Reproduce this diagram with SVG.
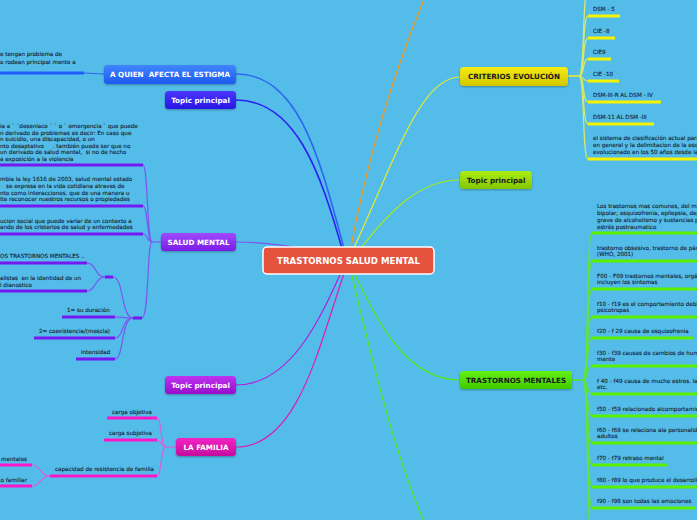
<svg xmlns="http://www.w3.org/2000/svg" width="697" height="520" viewBox="0 0 697 520">
<defs>
<linearGradient id="gBlue" x1="0" y1="0" x2="0" y2="1"><stop offset="0" stop-color="#4085ff"/><stop offset="1" stop-color="#1c5aee"/></linearGradient>
<linearGradient id="gIndigo" x1="0" y1="0" x2="0" y2="1"><stop offset="0" stop-color="#4a38ff"/><stop offset="1" stop-color="#2915e4"/></linearGradient>
<linearGradient id="gViolet" x1="0" y1="0" x2="0" y2="1"><stop offset="0" stop-color="#a049ff"/><stop offset="1" stop-color="#7a1de6"/></linearGradient>
<linearGradient id="gPurple" x1="0" y1="0" x2="0" y2="1"><stop offset="0" stop-color="#bd33f0"/><stop offset="1" stop-color="#990ccb"/></linearGradient>
<linearGradient id="gPink" x1="0" y1="0" x2="0" y2="1"><stop offset="0" stop-color="#f224c4"/><stop offset="1" stop-color="#c60d9e"/></linearGradient>
<linearGradient id="gYellow" x1="0" y1="0" x2="0" y2="1"><stop offset="0" stop-color="#f4ec12"/><stop offset="1" stop-color="#d2c600"/></linearGradient>
<linearGradient id="gLime" x1="0" y1="0" x2="0" y2="1"><stop offset="0" stop-color="#aaee14"/><stop offset="1" stop-color="#84c600"/></linearGradient>
<linearGradient id="gGreen" x1="0" y1="0" x2="0" y2="1"><stop offset="0" stop-color="#64f214"/><stop offset="1" stop-color="#40ca00"/></linearGradient>
<filter id="sh" x="-10%" y="-30%" width="120%" height="170%"><feDropShadow dx="0" dy="1" stdDeviation="0.8" flood-color="#000" flood-opacity="0.3"/></filter>
</defs>
<style>
.c{fill:none;stroke-width:1.2}
.ul{fill:none;stroke-width:3}
.t{font-family:"DejaVu Sans",Verdana,sans-serif;font-size:5.6px;fill:#17222e;stroke:#17222e;stroke-width:0.12}
.nt{font-family:"DejaVu Sans",Verdana,sans-serif;font-size:7.2px;font-weight:bold;text-anchor:middle}
.w{fill:#ffffff}
.d{fill:#1a1a1a}
.blue{stroke:#2a66f2}
.indigo{stroke:#2e1ff0}
.violet{stroke:#7d55f2}
.purple{stroke:#b21ee0}
.pink{stroke:#e01cb6}
.pinkl{stroke:#d462dc}
.orange{stroke:#f39a1c}
.yellow{stroke:#e8ec2c}
.yellowl{stroke:#d6ea6a}
.lime{stroke:#a4ea1c}
.green{stroke:#4ee81a}
.greenl{stroke:#62e43a}
.ulBlue{stroke:#1f5cff}
.ulViolet{stroke:#7518f2}
.ulPink{stroke:#ff16c8}
.ulYellow{stroke:#f6f300}
.ulGreen{stroke:#5af000}
</style>
<rect x="0" y="0" width="697" height="520" fill="#54bce9"/>

<g id="connectors">
  <path class="c orange" d="M 350 252 C 365 170, 390 80, 428 -10"/>
  <path class="c yellow" d="M 352 252 C 395 160, 420 77, 460 77"/>
  <path class="c lime" d="M 358 252 C 390 210, 420 180, 460 180"/>
  <path class="c blue" style="stroke-width:1.6" d="M 345 252 C 320 160, 300 74, 236 74"/>
  <path class="c indigo" style="stroke-width:1.6" d="M 343 252 C 320 170, 295 100, 236 100"/>
  <path class="c violet" d="M 340 255 C 300 248, 270 242, 236 242"/>
  <path class="c purple" d="M 343 268 C 320 320, 290 385, 236 385"/>
  <path class="c pink" d="M 346 268 C 320 340, 300 447, 236 447"/>
  <path class="c green" d="M 352 268 C 380 330, 410 380, 460 380"/>
  <path class="c green" d="M 350 268 C 370 350, 395 460, 428 530"/>

  <path class="c blue" d="M 104 74 L 84 73"/>
  <path class="ul ulBlue" d="M 0 73 L 84 73"/>

  <path class="c violet" d="M 161 242 L 152 242"/>
  <path class="c violet" d="M 152 242 C 147 242, 148 165, 143 165"/>
  <path class="c violet" d="M 152 242 C 147 242, 148 206, 143 206"/>
  <path class="c violet" d="M 152 242 C 147 242, 148 234, 143 234"/>
  <path class="c violet" d="M 152 242 C 147 242, 149 318, 142 318"/>
  <path class="ul ulViolet" d="M 0 165 L 143 165"/>
  <path class="ul ulViolet" d="M 0 206 L 143 206"/>
  <path class="ul ulViolet" d="M 0 234 L 143 234"/>
  <path class="ul ulViolet" d="M 133 318 L 142 318"/>
  <path class="c violet" d="M 133 318 C 121 318, 123 317, 115 317"/>
  <path class="c violet" d="M 133 318 C 121 318, 124 338, 115 338"/>
  <path class="c violet" d="M 133 318 C 121 318, 124 359, 115 359"/>
  <path class="c violet" d="M 133 318 C 121 318, 124 277, 113 277"/>
  <path class="ul ulViolet" d="M 62 317 L 115 317"/>
  <path class="ul ulViolet" d="M 34 338 L 115 338"/>
  <path class="ul ulViolet" d="M 76 359 L 115 359"/>
  <path class="ul ulViolet" d="M 105 277 L 113 277"/>
  <path class="c violet" d="M 105 277 C 95 277, 96 263, 87 263"/>
  <path class="c violet" d="M 105 277 C 95 277, 96 291, 87 291"/>
  <path class="ul ulViolet" d="M 0 263 L 87 263"/>
  <path class="ul ulViolet" d="M 0 291 L 87 291"/>

  <path class="c pinkl" d="M 176 447 L 166 447"/>
  <path class="c pinkl" d="M 166 447 C 160 447, 162 418, 157 418"/>
  <path class="c pinkl" d="M 166 447 C 160 447, 162 440, 157 440"/>
  <path class="c pinkl" d="M 166 447 C 160 447, 162 476, 157 476"/>
  <path class="ul ulPink" d="M 107 418 L 157 418"/>
  <path class="ul ulPink" d="M 104 440 L 157 440"/>
  <path class="ul ulPink" d="M 50 476 L 157 476"/>
  <path class="c pinkl" d="M 50 476 C 40 476, 41 465, 32 465"/>
  <path class="c pinkl" d="M 50 476 C 40 476, 41 486, 32 486"/>
  <path class="ul ulPink" d="M 0 465 L 32 465"/>
  <path class="ul ulPink" d="M 0 486 L 32 486"/>

  <path class="c yellow" style="stroke-width:1.6" d="M 568 76 L 579 76"/>
  <path class="c yellowl" d="M 579 76 C 585 76, 582 -10, 588 -10"/>
  <path class="c yellowl" d="M 579 76 C 585 76, 582 16, 588 16"/>
  <path class="c yellowl" d="M 579 76 C 585 76, 582 38, 588 38"/>
  <path class="c yellowl" d="M 579 76 C 585 76, 582 59, 588 59"/>
  <path class="c yellowl" d="M 579 76 C 585 76, 582 81, 588 81"/>
  <path class="c yellowl" d="M 579 76 C 585 76, 582 102, 588 102"/>
  <path class="c yellowl" d="M 579 76 C 585 76, 582 124, 588 124"/>
  <path class="c yellowl" d="M 579 76 C 585 76, 582 159, 588 159"/>
  <path class="ul ulYellow" d="M 588 16 L 620 16"/>
  <path class="ul ulYellow" d="M 588 38 L 615 38"/>
  <path class="ul ulYellow" d="M 588 59 L 611 59"/>
  <path class="ul ulYellow" d="M 588 81 L 619 81"/>
  <path class="ul ulYellow" d="M 588 102 L 661 102"/>
  <path class="ul ulYellow" d="M 588 124 L 654 124"/>
  <path class="ul ulYellow" d="M 588 159 L 700 159"/>

  <path class="c green" style="stroke-width:1.6" d="M 572 380 L 583 380"/>
  <path class="c greenl" d="M 583 380 C 589 380, 586 233, 592 233"/>
  <path class="c greenl" d="M 583 380 C 589 380, 586 261, 592 261"/>
  <path class="c greenl" d="M 583 380 C 589 380, 586 289, 592 289"/>
  <path class="c greenl" d="M 583 380 C 589 380, 586 317, 592 317"/>
  <path class="c greenl" d="M 583 380 C 589 380, 586 338, 592 338"/>
  <path class="c greenl" d="M 583 380 C 589 380, 586 366, 592 366"/>
  <path class="c greenl" d="M 583 380 C 589 380, 586 394, 592 394"/>
  <path class="c greenl" d="M 583 380 C 589 380, 586 416, 592 416"/>
  <path class="c greenl" d="M 583 380 C 589 380, 586 443, 592 443"/>
  <path class="c greenl" d="M 583 380 C 589 380, 586 465, 592 465"/>
  <path class="c greenl" d="M 583 380 C 589 380, 586 487, 592 487"/>
  <path class="c greenl" d="M 583 380 C 589 380, 586 508, 592 508"/>
  <path class="c greenl" d="M 583 380 C 589 380, 586 540, 592 540"/>
  <path class="ul ulGreen" d="M 592 233 L 700 233"/>
  <path class="ul ulGreen" d="M 592 261 L 700 261"/>
  <path class="ul ulGreen" d="M 592 289 L 700 289"/>
  <path class="ul ulGreen" d="M 592 317 L 700 317"/>
  <path class="ul ulGreen" d="M 592 338 L 693 338"/>
  <path class="ul ulGreen" d="M 592 366 L 700 366"/>
  <path class="ul ulGreen" d="M 592 394 L 700 394"/>
  <path class="ul ulGreen" d="M 592 416 L 700 416"/>
  <path class="ul ulGreen" d="M 592 443 L 700 443"/>
  <path class="ul ulGreen" d="M 592 465 L 668 465"/>
  <path class="ul ulGreen" d="M 592 487 L 700 487"/>
  <path class="ul ulGreen" d="M 592 508 L 695 508"/>
</g>

<g id="root">
  <rect x="263" y="247" width="171" height="27" rx="4" fill="#e5533f" stroke="#ffffff" stroke-width="1.5"/>
  <text x="348.5" y="264" class="nt w" style="font-size:8.6px">TRASTORNOS SALUD MENTAL</text>
</g>

<g id="n-aquien">
  <rect x="104" y="65" width="132" height="19" rx="3.5" fill="url(#gBlue)" filter="url(#sh)"/>
  <text x="170" y="77" class="nt w" xml:space="preserve">A QUIEN  AFECTA EL ESTIGMA</text>
</g>
<g id="n-aquien-1">
  <text class="t" x="0" y="56">e tengan problema de</text>
  <text class="t" x="0" y="63.5">o rodean principal mente a</text>
</g>

<g id="n-topic-blue">
  <rect x="165" y="91" width="71" height="18" rx="3.5" fill="url(#gIndigo)" filter="url(#sh)"/>
  <text x="200.5" y="102.6" class="nt w">Topic principal</text>
</g>

<g id="n-salud">
  <rect x="161" y="233" width="75" height="18" rx="3.5" fill="url(#gViolet)" filter="url(#sh)"/>
  <text x="198.5" y="244.6" class="nt w">SALUD MENTAL</text>
</g>
<g id="n-salud-1">
  <text class="t" x="0" y="128">ia a ` `desenlace ` ` o ` emergencia ` que puede</text>
  <text class="t" x="0" y="134.5">n derivado de problemas es decir: En caso que</text>
  <text class="t" x="0" y="141">n suicidio, una discapacidad, o un</text>
  <text class="t" x="0" y="147.5" xml:space="preserve">nto desaptativo     . también puede ser que no</text>
  <text class="t" x="0" y="154" xml:space="preserve">un derivado de salud mental,  si no de hecho</text>
  <text class="t" x="0" y="160.5">a exposición a la violencia</text>
</g>
<g id="n-salud-2">
  <text class="t" x="0" y="181">mbia la ley 1616 de 2003, salud mental estado</text>
  <text class="t" x="6" y="188">se expresa en la vida cotidiana atraves de</text>
  <text class="t" x="0" y="194.5">nto como interacciones. que de una manera u</text>
  <text class="t" x="0" y="201">ite reconocer nuestros recursos o propiedades</text>
</g>
<g id="n-salud-3">
  <text class="t" x="0" y="223">ucion social que puede variar de un contexto a</text>
  <text class="t" x="0" y="229">ando de los cristerios de salud y enfermedades</text>
</g>
<g id="n-salud-4"></g>
<g id="n-salud-4-1"></g>
<g id="n-salud-4-1-1">
  <text class="t" x="0" y="258">OS TRASTORNOS MENTALES ..</text>
</g>
<g id="n-salud-4-1-2">
  <text class="t" x="0" y="280" xml:space="preserve">alistas  en la identidad de un</text>
  <text class="t" x="0" y="286.5">l dianostico</text>
</g>
<g id="n-duracion"><text class="t" x="67" y="312">1= su duración</text></g>
<g id="n-coexistencia"><text class="t" x="39" y="333">2= coexistencia/(mescla)</text></g>
<g id="n-intensidad"><text class="t" x="81" y="354">intensidad</text></g>

<g id="n-topic-purple">
  <rect x="165" y="376" width="71" height="18" rx="3.5" fill="url(#gPurple)" filter="url(#sh)"/>
  <text x="200.5" y="387.6" class="nt w">Topic principal</text>
</g>

<g id="n-familia">
  <rect x="176" y="438" width="60" height="18" rx="3.5" fill="url(#gPink)" filter="url(#sh)"/>
  <text x="206" y="449.6" class="nt w">LA FAMILIA</text>
</g>
<g id="n-carga-obj"><text class="t" x="112" y="413.5">carga objetiva</text></g>
<g id="n-carga-sub"><text class="t" x="109" y="435">carga subjetiva</text></g>
<g id="n-capacidad"><text class="t" x="55" y="471">capacidad de resistencia de familia</text></g>
<g id="n-mentales"><text class="t" x="27" y="460.5" text-anchor="end">mentales</text></g>
<g id="n-familiar"><text class="t" x="27" y="481.5" text-anchor="end">o familiar</text></g>

<g id="n-criterios">
  <rect x="460" y="67" width="108" height="19" rx="3.5" fill="url(#gYellow)" filter="url(#sh)"/>
  <text x="514" y="79" class="nt d">CRITERIOS EVOLUCIÓN</text>
</g>
<g id="n-dsm5"><text class="t" x="593" y="11">DSM - 5</text></g>
<g id="n-cie8"><text class="t" x="593" y="33">CIE -8</text></g>
<g id="n-cie9"><text class="t" x="593" y="54">CIE9</text></g>
<g id="n-cie10"><text class="t" x="593" y="76">CIE -10</text></g>
<g id="n-dsm3r"><text class="t" x="593" y="97">DSM-III-R AL DSM - IV</text></g>
<g id="n-dsm11"><text class="t" x="593" y="119">DSM-11 AL DSM -III</text></g>
<g id="n-sistema">
  <text class="t" x="593" y="139.5">el sistema de clasificación actual para</text>
  <text class="t" x="593" y="146.5">en general y la delimitacion de la esq</text>
  <text class="t" x="593" y="153.5">evolucionado en los 50 años desde la</text>
</g>

<g id="n-topic-lime">
  <rect x="460" y="171" width="72" height="18" rx="3.5" fill="url(#gLime)" filter="url(#sh)"/>
  <text x="496" y="182.6" class="nt d">Topic principal</text>
</g>

<g id="n-trastornos">
  <rect x="460" y="371" width="112" height="18" rx="3.5" fill="url(#gGreen)" filter="url(#sh)"/>
  <text x="516" y="382.6" class="nt d">TRASTORNOS MENTALES</text>
</g>
<g id="n-tm-1">
  <text class="t" x="597" y="207.5">Los trastornos mas comunes, del ma</text>
  <text class="t" x="597" y="214.5">bipolar, esquizofrenia, epilepsia, dep</text>
  <text class="t" x="597" y="221.5">grave de alcoholismo y sustancias p</text>
  <text class="t" x="597" y="228.5">estrés postraumatico</text>
</g>
<g id="n-tm-2">
  <text class="t" x="597" y="249.5">trastorno obsesivo, trastorno de pán</text>
  <text class="t" x="597" y="256">(WHO, 2001)</text>
</g>
<g id="n-tm-3">
  <text class="t" x="597" y="277.5">F00 - F09 trastornos mentales, orgá</text>
  <text class="t" x="597" y="284">incluyen los síntomas</text>
</g>
<g id="n-tm-4">
  <text class="t" x="597" y="305.5">f10 - f19 es el comportamiento debi</text>
  <text class="t" x="597" y="312">psicotropas</text>
</g>
<g id="n-tm-5"><text class="t" x="597" y="333">f20 - f 29 causa de esquizofrenia</text></g>
<g id="n-tm-6">
  <text class="t" x="597" y="354.5">f30 - f39 causas de cambios de hum</text>
  <text class="t" x="597" y="361">mente</text>
</g>
<g id="n-tm-7">
  <text class="t" x="597" y="382.5">f 40 - f49 causa de mucho estres. la</text>
  <text class="t" x="597" y="389">etc.</text>
</g>
<g id="n-tm-8"><text class="t" x="597" y="411">f50 - f59 relacionado alcomportamie</text></g>
<g id="n-tm-9">
  <text class="t" x="597" y="431.5">f60 - f69 se relaciona ala personalid</text>
  <text class="t" x="597" y="438">adultos</text>
</g>
<g id="n-tm-10"><text class="t" x="597" y="460">f70 - f79 retraso mental</text></g>
<g id="n-tm-11"><text class="t" x="597" y="482">f80 - f89 lo que produce el desarroll</text></g>
<g id="n-tm-12"><text class="t" x="597" y="503">f90 - f98 son todas las emociones</text></g>
</svg>
